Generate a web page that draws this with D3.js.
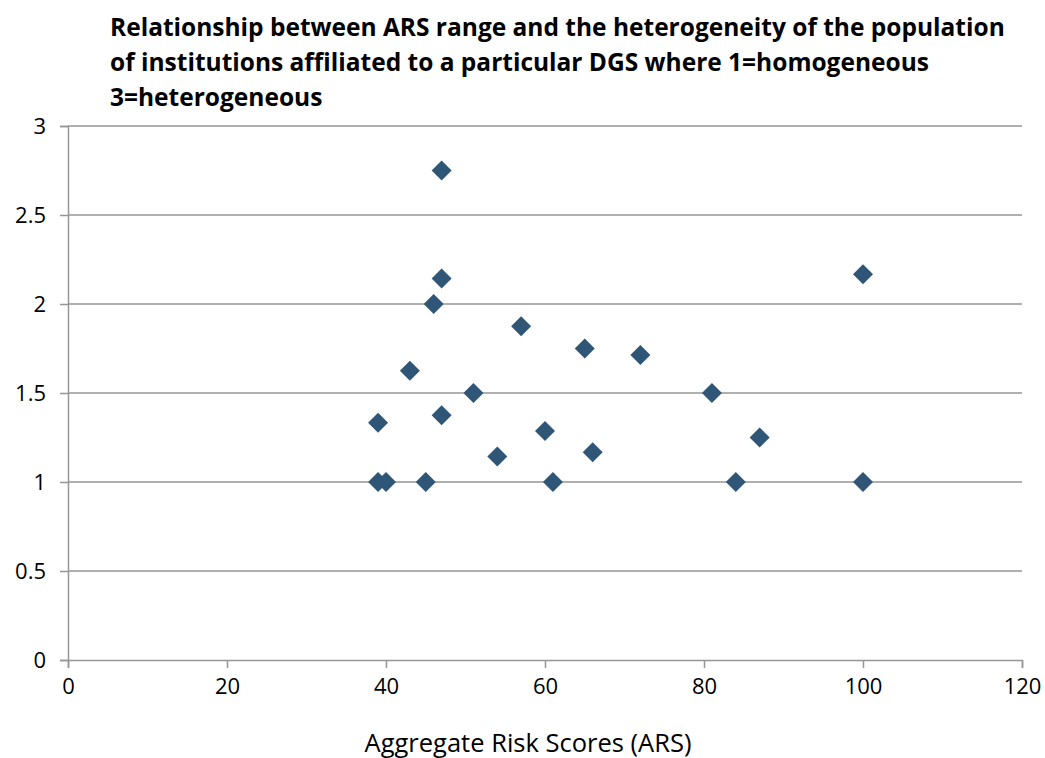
<!DOCTYPE html>
<html lang="en">
<head>
    <meta charset="utf-8" />
    <title>ARS vs heterogeneity</title>
    <script src="https://d3js.org/d3.v7.min.js"></script>
    <style>
        body { margin: 0; background: #fff; }
        svg text { font-family: "Open Sans", sans-serif; fill: #000; }
    </style>
</head>
<body>
    <script>
        var w = 1045;
        var h = 758;

        // Data: [ARS, heterogeneity]
        var arsValues = [39, 39, 40, 45, 43, 46, 47, 47, 47, 51, 54, 57, 60, 61, 65, 66, 72, 81, 84, 87, 100, 100];
        var heteroValues = [1.333, 1, 1, 1, 1.625, 2, 2.75, 2.143, 1.375, 1.5, 1.143, 1.875, 1.286, 1, 1.75, 1.167, 1.714, 1.5, 1, 1.25, 2.167, 1];
        var xTicks = [0, 20, 40, 60, 80, 100, 120];
        var yTicks = [0, 0.5, 1, 1.5, 2, 2.5, 3];
        var titleLines = [
            "Relationship between ARS range and the heterogeneity of the population",
            "of institutions affiliated to a particular DGS where 1=homogeneous",
            "3=heterogeneous"
        ];

        var dataset = arsValues.map(function (d, i) { return [d, heteroValues[i]]; });

        var xScale = d3.scaleLinear().domain([0, 120]).range([68, 1022]);
        var yScale = d3.scaleLinear().domain([0, 3]).range([660, 126]);

        var svg = d3.select("body").append("svg")
            .attr("width", w)
            .attr("height", h);

        // horizontal gridlines
        svg.selectAll("line.grid")
            .data(yTicks.filter(function (d) { return d > 0; }))
            .enter()
            .append("line")
            .attr("class", "grid")
            .attr("x1", xScale(0))
            .attr("x2", xScale(120))
            .attr("y1", function (d) { return yScale(d); })
            .attr("y2", function (d) { return yScale(d); })
            .attr("stroke", "#969696")
            .attr("stroke-width", 1.5);

        // x axis
        var xAxis = d3.axisBottom(xScale).tickValues(xTicks).tickSize(8).tickPadding(10);
        var gx = svg.append("g")
            .attr("transform", "translate(0," + yScale(0) + ")")
            .call(xAxis);
        gx.select(".domain").attr("stroke", "#969696").attr("stroke-width", 1.5);
        gx.selectAll(".tick line").attr("stroke", "#969696").attr("stroke-width", 1.5);
        gx.selectAll(".tick text").attr("font-size", "22px").attr("font-family", "Open Sans");

        // y axis
        var yAxis = d3.axisLeft(yScale).tickValues(yTicks).tickSize(8).tickPadding(14)
            .tickFormat(function (d) { return d; });
        var gy = svg.append("g")
            .attr("transform", "translate(" + xScale(0) + ",0)")
            .call(yAxis);
        gy.select(".domain").attr("stroke", "#969696").attr("stroke-width", 1.5);
        gy.selectAll(".tick line").attr("stroke", "#969696").attr("stroke-width", 1.5);
        gy.selectAll(".tick text").attr("font-size", "22px").attr("font-family", "Open Sans");

        // diamond markers
        var diamond = d3.symbol().type(d3.symbolSquare).size(200);
        svg.selectAll("path.pt")
            .data(dataset)
            .enter()
            .append("path")
            .attr("class", "pt")
            .attr("d", diamond)
            .attr("transform", function (d) {
                return "translate(" + xScale(d[0]) + "," + yScale(d[1]) + ") rotate(45)";
            })
            .attr("fill", "#2f5677");

        // title
        svg.selectAll("text.title")
            .data(titleLines)
            .enter()
            .append("text")
            .attr("class", "title")
            .attr("x", 110)
            .attr("y", function (d, i) { return 36 + i * 35; })
            .attr("font-size", "24.5px")
            .attr("font-weight", "bold")
            .text(function (d) { return d; });

        // x axis label
        svg.append("text")
            .attr("text-anchor", "middle")
            .attr("x", 528)
            .attr("y", 752)
            .attr("font-size", "25.5px")
            .text("Aggregate Risk Scores (ARS)");
    </script>
</body>
</html>
